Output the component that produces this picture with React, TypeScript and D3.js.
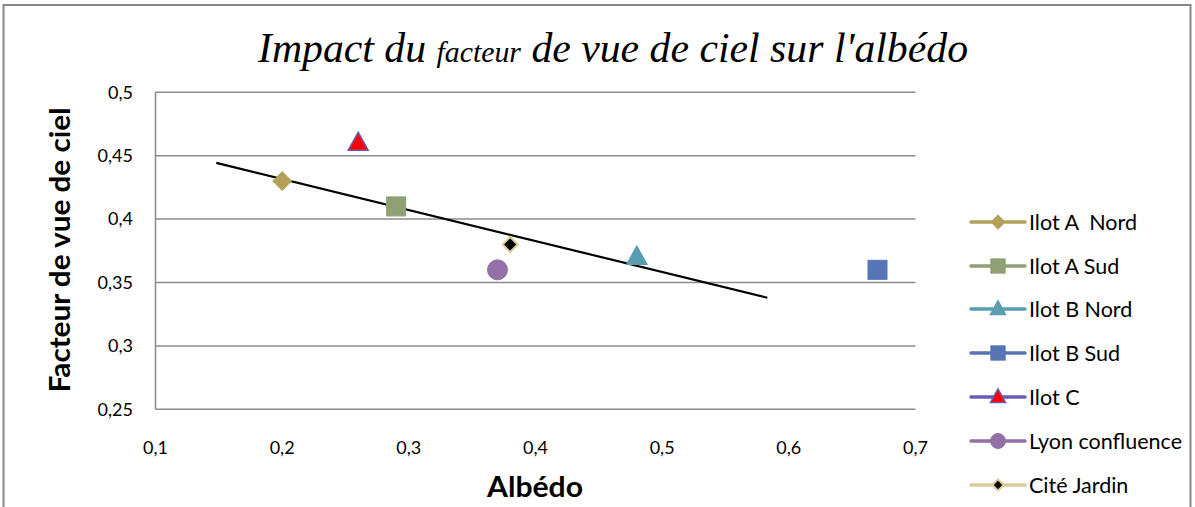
import React from "react";
import * as d3 from "d3";

const seriesNames = ["Ilot A  Nord", "Ilot A Sud", "Ilot B Nord", "Ilot B Sud", "Ilot C", "Lyon confluence", "Cité Jardin"];
const albedo = [0.2, 0.29, 0.48, 0.67, 0.26, 0.37, 0.38];
const skyView = [0.43, 0.41, 0.37, 0.36, 0.46, 0.36, 0.38];
const markerShapes = ["diamond", "square", "triangle", "square", "triangle", "circle", "diamondSmall"];
const fillColors = ["#B3A15B", "#8EA074", "#5B9DB0", "#5774B6", "#FF0000", "#9370A8", "#000000"];
const strokeColors = ["#B3A15B", "#8EA074", "#5B9DB0", "#5774B6", "#6A5BB5", "#9370A8", "#DCCD98"];
const lineColors = ["#B3A15B", "#8EA074", "#5B9DB0", "#5774B6", "#6A5BB5", "#9370A8", "#D9CB9B"];
const trendX = [0.148, 0.583];
const trendY = [0.4443, 0.338];
const xTicks = [0.1, 0.2, 0.3, 0.4, 0.5, 0.6, 0.7];
const yTicks = [0.25, 0.3, 0.35, 0.4, 0.45, 0.5];

const W = 1195, H = 507;
const x = d3.scaleLinear().domain([0.1, 0.7]).range([155.5, 915.5]);
const y = d3.scaleLinear().domain([0.25, 0.5]).range([409.3, 92.3]);
const fmt = (v: number) => String(Math.round(v * 100) / 100).replace(".", ",");
const SANS = "Lato, 'Open Sans', sans-serif";

function Marker({ shape, cx, cy, fill, stroke, scale = 1 }: any) {
  if (shape === "circle") return <circle cx={cx} cy={cy} r={10 * scale} fill={fill} stroke={stroke} strokeWidth={1} />;
  if (shape === "square") { const s = 19 * scale; return <rect x={cx - s / 2} y={cy - s / 2} width={s} height={s} fill={fill} stroke={stroke} strokeWidth={1} />; }
  if (shape === "triangle") {
    const w = 20 * scale, h = 18 * scale;
    return <path d={`M${cx},${cy - h * 0.6}L${cx + w / 2},${cy + h * 0.4}L${cx - w / 2},${cy + h * 0.4}Z`} fill={fill} stroke={stroke} strokeWidth={1.5} />;
  }
  if (shape === "diamond") { const r = 9.5 * scale; return <path d={`M${cx},${cy - r}L${cx + r},${cy}L${cx},${cy + r}L${cx - r},${cy}Z`} fill={fill} stroke={stroke} strokeWidth={1} />; }
  const r = 7.5 * scale;
  return <path d={`M${cx},${cy - r}L${cx + r},${cy}L${cx},${cy + r}L${cx - r},${cy}Z`} fill={fill} stroke={stroke} strokeWidth={2} />;
}

export default function App() {
  const legendRows = [222, 266, 309, 353, 397, 441, 485];
  const line = d3.line<number>().x((_, i) => x(trendX[i])).y((d) => y(d));
  return (
    <svg width={W} height={H} style={{ position: "absolute", left: 0, top: 0 }}>
      <rect x={0} y={0} width={W} height={H} fill="#fff" />
      <rect x={3.5} y={5} width={1187} height={H + 10} fill="none" stroke="#888" strokeWidth={2} />
      <text x={613} y={62} textAnchor="middle" fontFamily="'Liberation Serif', serif" fontStyle="italic" fontSize={42} fill="#000" textLength={710} lengthAdjust="spacingAndGlyphs">
        Impact du <tspan fontSize={30}>facteur</tspan> de vue de ciel sur l'albédo
      </text>
      {yTicks.map((t) => (
        <g key={t}>
          <line x1={x(0.1)} x2={x(0.7)} y1={y(t)} y2={y(t)} stroke="#8c8c8c" strokeWidth={1.5} />
          <text x={133} y={y(t)} dy="0.35em" textAnchor="end" fontFamily={SANS} fontSize={18} fill="#000">{fmt(t)}</text>
        </g>
      ))}
      <line x1={x(0.1)} x2={x(0.1)} y1={y(0.5)} y2={y(0.25)} stroke="#8c8c8c" strokeWidth={1.5} />
      {xTicks.map((t) => (
        <text key={t} x={x(t)} y={448} dy="0.35em" textAnchor="middle" fontFamily={SANS} fontSize={18} fill="#000">{fmt(t)}</text>
      ))}
      <text x={535} y={487} dy="0.35em" textAnchor="middle" fontFamily={SANS} fontWeight="bold" fontSize={29} fill="#000" textLength={96} lengthAdjust="spacingAndGlyphs">Albédo</text>
      <text transform={`translate(60,250) rotate(-90)`} textAnchor="middle" dy="0.35em" fontFamily={SANS} fontWeight="bold" fontSize={29} fill="#000" textLength={285} lengthAdjust="spacingAndGlyphs">Facteur de vue de ciel</text>
      <path d={line(trendY) || ""} fill="none" stroke="#000" strokeWidth={2.2} />
      {seriesNames.map((n, i) => (
        <Marker key={n} shape={markerShapes[i]} cx={x(albedo[i])} cy={y(skyView[i])} fill={fillColors[i]} stroke={strokeColors[i]} />
      ))}
      {seriesNames.map((n, i) => (
        <g key={"l" + n}>
          <line x1={971} x2={1025} y1={legendRows[i]} y2={legendRows[i]} stroke={lineColors[i]} strokeWidth={3.5} strokeLinecap="round" />
          <Marker shape={markerShapes[i]} cx={998} cy={legendRows[i]} fill={fillColors[i]} stroke={strokeColors[i]} scale={0.75} />
          <text x={1029} y={legendRows[i]} dy="0.35em" fontFamily={SANS} fontSize={21.5} fill="#000" style={{ whiteSpace: "pre" }}>{n}</text>
        </g>
      ))}
    </svg>
  );
}
